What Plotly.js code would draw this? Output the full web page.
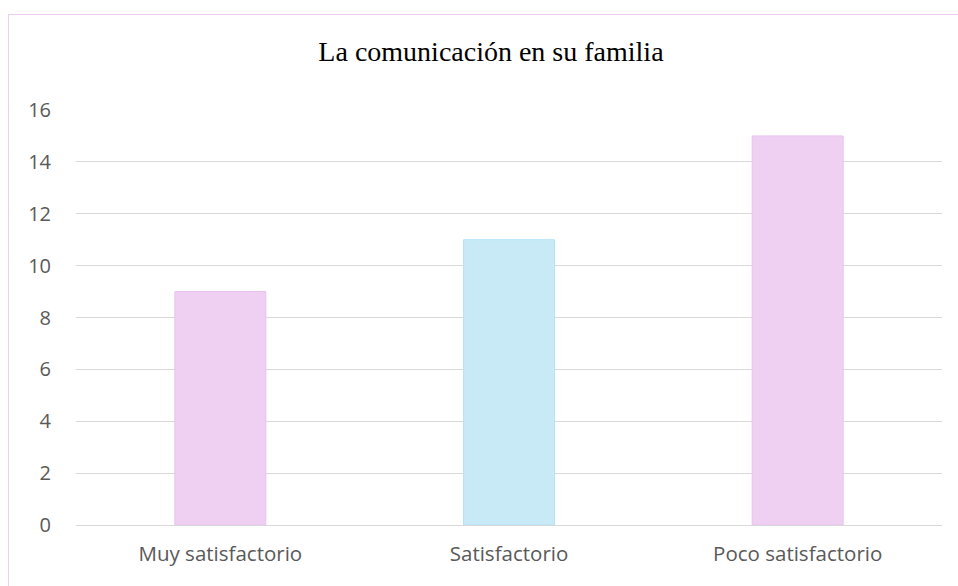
<!DOCTYPE html>
<html>
<head>
<meta charset="utf-8">
<script src="https://cdn.plot.ly/plotly-3.0.1.min.js"></script>
<style>
html,body{margin:0;padding:0;background:#fff;}
#chart{width:958px;height:586px;}
#frame{position:absolute;left:8px;top:14px;width:960px;height:600px;border:1px solid #efcdf1;pointer-events:none;box-sizing:border-box;}
</style>
</head>
<body>
<div id="chart"></div>
<div id="frame"></div>
<script>
const categories = ["Muy satisfactorio", "Satisfactorio", "Poco satisfactorio"];
const values = [9, 11, 15];
const fillColors = ["#efd0f3", "#c8eaf7", "#efd0f3"];
const lineColors = ["#e8c1ee", "#b6e2f6", "#e8c1ee"];
const yTicks = [0, 2, 4, 6, 8, 10, 12, 14, 16];

Plotly.newPlot("chart", [{
  type: "bar",
  x: categories,
  y: values,
  width: 0.315,
  marker: {color: fillColors, line: {color: lineColors, width: 1}},
  hoverinfo: "none"
}], {
  width: 958, height: 586,
  margin: {l: 76, r: 16, t: 110, b: 61},
  paper_bgcolor: "#ffffff",
  plot_bgcolor: "#ffffff",
  title: {text: "La comunicación en su familia", font: {family: "Liberation Serif, Times New Roman, serif", size: 28, color: "#000000"}, x: 0.5125, xanchor: "center", y: 0.912, yanchor: "middle"},
  xaxis: {
    tickfont: {family: "Open Sans, Lato, sans-serif", size: 20.5, color: "#595959"},
    showline: false, ticks: "", showgrid: false, ticklabelstandoff: 14
  },
  yaxis: {
    range: [0, 16], tickvals: yTicks, ticktext: yTicks.map(String),
    tickfont: {family: "Open Sans, Lato, sans-serif", size: 20, color: "#595959"},
    gridcolor: "#d9d9d9", gridwidth: 1, zeroline: true, zerolinecolor: "#d9d9d9", zerolinewidth: 1,
    ticks: "", ticklabelstandoff: 24, showline: false
  },
  showlegend: false,
  bargap: 0.685
}, {displayModeBar: false, staticPlot: true});
</script>
</body>
</html>
